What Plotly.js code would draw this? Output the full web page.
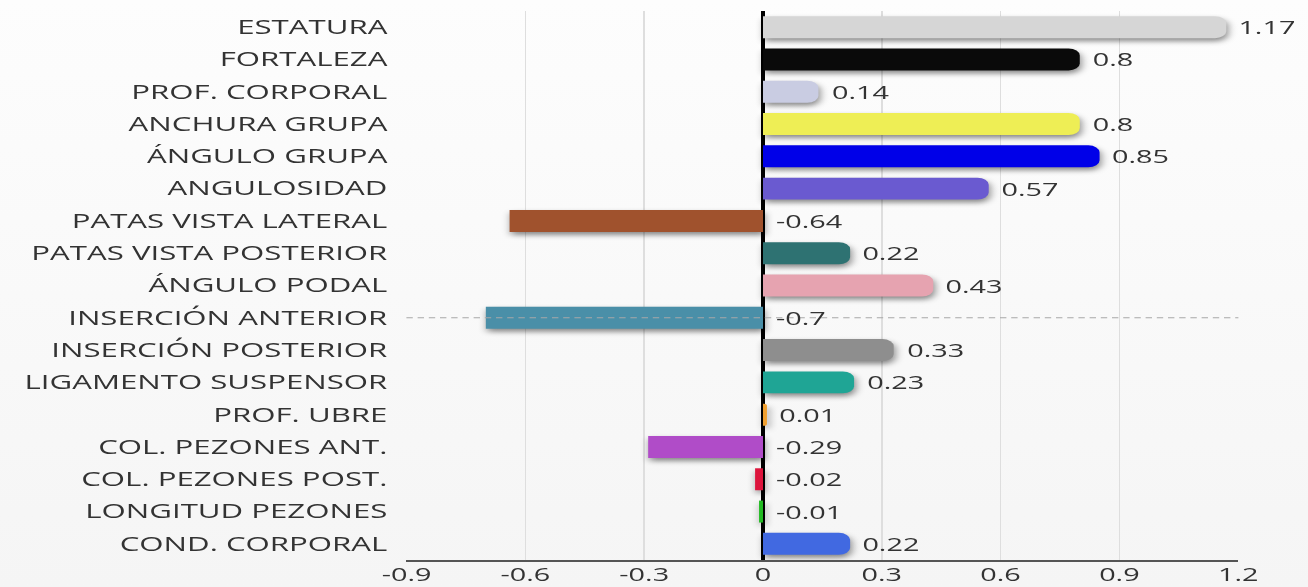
<!DOCTYPE html>
<html>
<head>
<meta charset="utf-8">
<script src="https://cdn.plot.ly/plotly-3.0.1.min.js"></script>
<style>
  html, body { margin: 0; padding: 0; overflow: hidden; width: 1308px; height: 587px;
    background: linear-gradient(to bottom, #fdfdfd 0%, #f5f5f5 100%); }
  #wrap { width: 1308px; height: 587px; overflow: hidden; }
  #chart { width: 817.5px; height: 587px; transform: scaleX(1.6); transform-origin: 0 0; }
  .barlayer .trace { filter: drop-shadow(1.5px 3px 2.5px rgba(0,0,0,0.45)); }
</style>
</head>
<body>
<div id="wrap"><div id="chart"></div></div>
<script>
const categories = [
  "ESTATURA", "FORTALEZA", "PROF. CORPORAL", "ANCHURA GRUPA", "ÁNGULO GRUPA",
  "ANGULOSIDAD", "PATAS VISTA LATERAL", "PATAS VISTA POSTERIOR", "ÁNGULO PODAL",
  "INSERCIÓN ANTERIOR", "INSERCIÓN POSTERIOR", "LIGAMENTO SUSPENSOR", "PROF. UBRE",
  "COL. PEZONES ANT.", "COL. PEZONES POST.", "LONGITUD PEZONES", "COND. CORPORAL"
];
const values = [1.17, 0.8, 0.14, 0.8, 0.85, 0.57, -0.64, 0.22, 0.43, -0.7, 0.33, 0.23, 0.01, -0.29, -0.02, -0.01, 0.22];
const barColors = [
  "#d6d6d6", "#0a0a0a", "#c9cce2", "#eeee55", "#0000e8", "#6a5ad0", "#a0522d", "#2e7272",
  "#e6a3b0", "#4a8fa8", "#8e8e8e", "#1fa595", "#f0a030", "#b04cc8", "#dc143c", "#22bb22", "#4169e1"
];
const tickVals = [-0.9, -0.6, -0.3, 0, 0.3, 0.6, 0.9, 1.2];
const tickText = ["-0.9", "-0.6", "-0.3", "0", "0.3", "0.6", "0.9", "1.2"];
const highlighted = "INSERCIÓN ANTERIOR";

const posX = values.map(v => v >= 0 ? v : null);
const negX = values.map(v => v < 0 ? v : null);

const traces = [
  { type: "bar", orientation: "h", y: categories, x: posX,
    marker: { color: barColors, cornerradius: 7 }, hoverinfo: "skip", showlegend: false },
  { type: "bar", orientation: "h", y: categories, x: negX,
    marker: { color: barColors }, hoverinfo: "skip", showlegend: false }
];

const annotations = categories.map((c, i) => ({
  x: Math.max(values[i], 0), y: c, xref: "x", yref: "y",
  text: String(values[i]), showarrow: false, xanchor: "left", yanchor: "middle",
  xshift: 6, font: { family: "Open Sans, sans-serif", size: 18, color: "#333" }
}));

const layout = {
  width: 817.5, height: 587,
  margin: { l: 254.4, r: 43.75, t: 11, b: 27 },
  paper_bgcolor: "rgba(0,0,0,0)", plot_bgcolor: "rgba(0,0,0,0)",
  font: { family: "Open Sans, sans-serif", color: "#333" },
  barmode: "overlay", bargap: 0.32,
  xaxis: {
    range: [-0.9006, 1.2006], tickvals: tickVals, ticktext: tickText,
    showgrid: true, gridcolor: "#dedede", gridwidth: 1,
    zeroline: true, zerolinecolor: "#000", zerolinewidth: 2,
    showline: true, linecolor: "#555", linewidth: 2,
    ticks: "", ticklen: 0, ticklabelstandoff: -3,
    tickfont: { size: 18, color: "#333" }, fixedrange: true
  },
  yaxis: {
    categoryorder: "array", categoryarray: categories, autorange: "reversed",
    showgrid: false, zeroline: false, showline: false,
    ticks: "outside", ticklen: 7, tickcolor: "rgba(0,0,0,0)",
    tickfont: { size: 19.5, color: "#333" }, fixedrange: true
  },
  shapes: [{
    type: "line", xref: "paper", x0: 0, x1: 1, yref: "y", y0: highlighted, y1: highlighted,
    line: { color: "#a8a8a8", width: 1, dash: "4px,3px" }, layer: "above"
  }],
  annotations: annotations
};

Plotly.newPlot("chart", traces, layout, { displayModeBar: false, staticPlot: true });
</script>
</body>
</html>
